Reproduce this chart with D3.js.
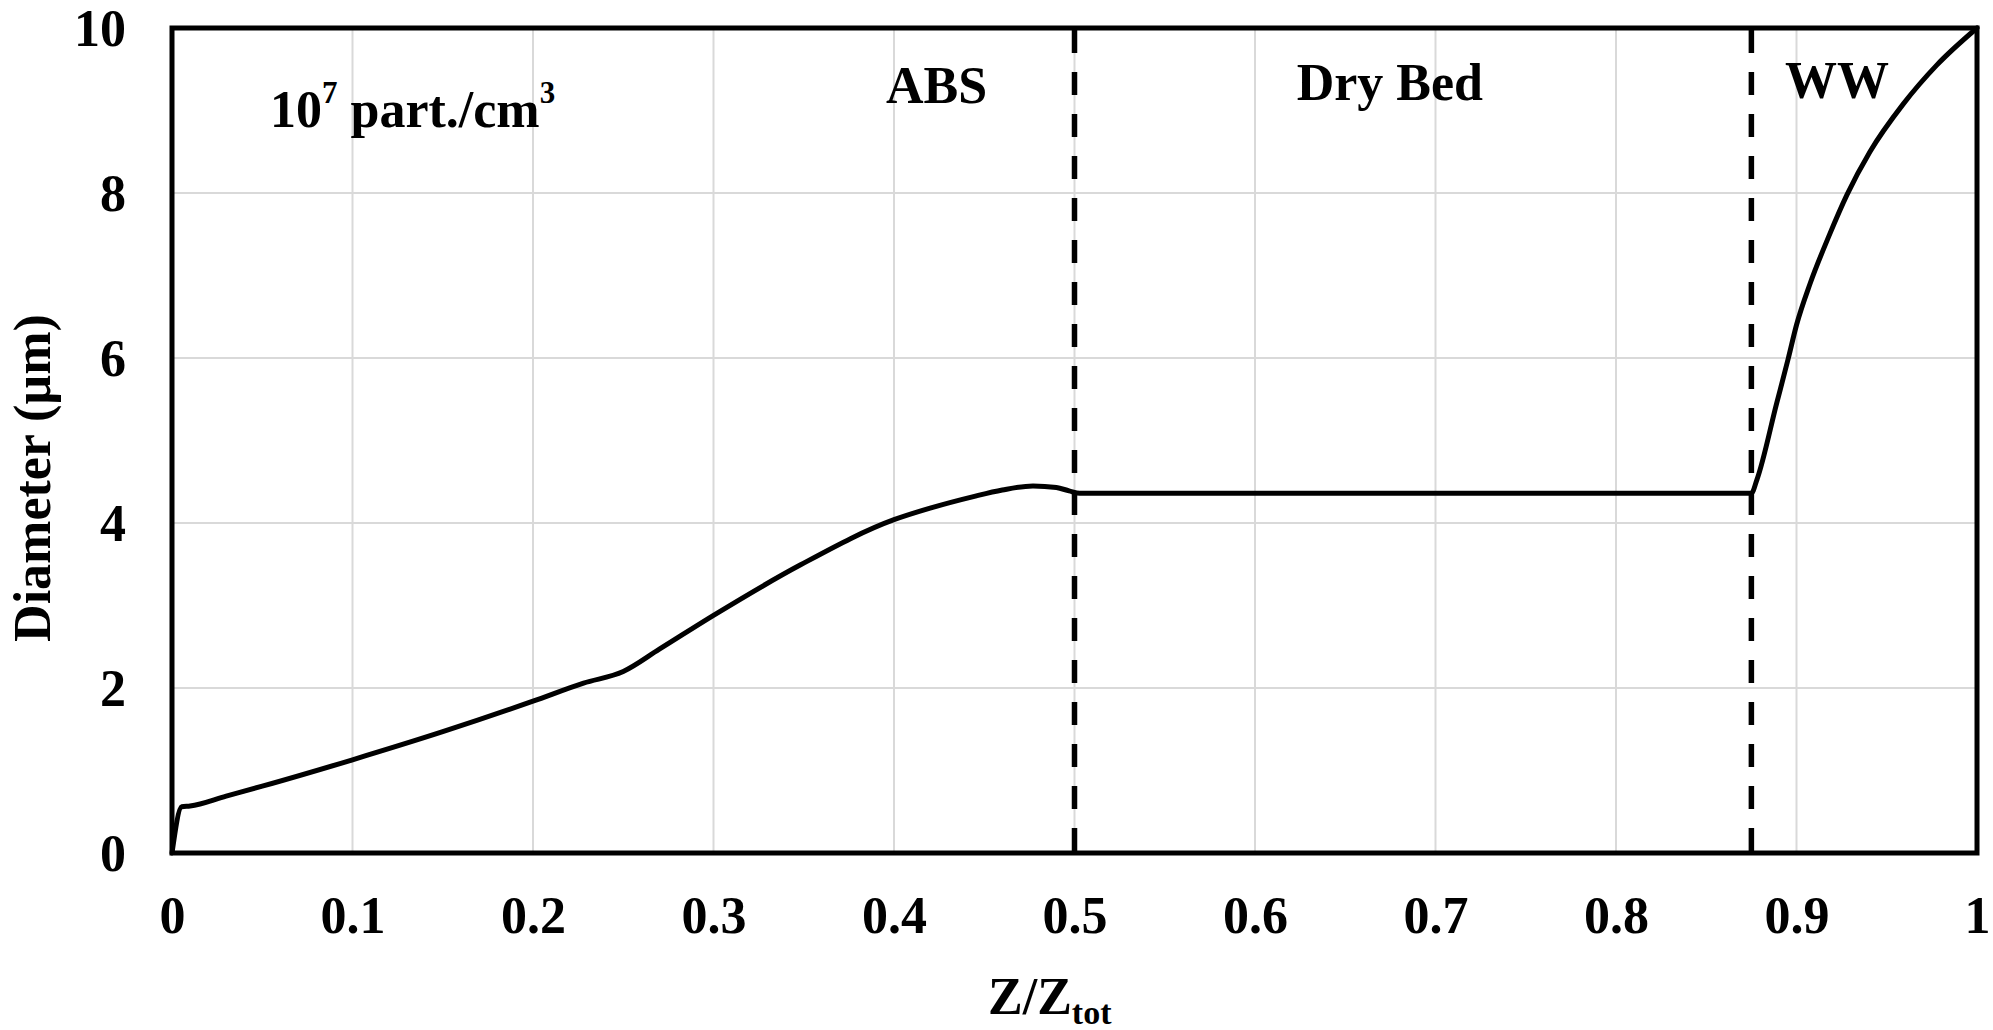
<!DOCTYPE html>
<html>
<head>
<meta charset="utf-8">
<script src="https://cdn.jsdelivr.net/npm/d3@7"></script>
<style>
  html, body { margin: 0; padding: 0; background: #fff; }
  svg { display: block; }
  text { font-family: "Liberation Serif", "Times New Roman", serif; font-weight: bold; fill: #000; }
</style>
</head>
<body>
<svg id="chart" width="1993" height="1030"></svg>
<script>
// ---- Data ----
const zValues = [0, 0.0054, 0.01, 0.03, 0.05, 0.1, 0.15, 0.2, 0.228, 0.25, 0.27, 0.3, 0.348, 0.4, 0.42, 0.444, 0.46, 0.477, 0.49, 0.497, 0.503, 0.6, 0.7, 0.8, 0.875, 0.878, 0.889, 0.8955, 0.9, 0.9075, 0.918, 0.928, 0.9407, 0.9592, 0.9777, 1.0];
const diameterValues = [0, 0.56, 0.57, 0.69, 0.81, 1.13, 1.47, 1.84, 2.06, 2.2, 2.47, 2.88, 3.49, 4.04, 4.18, 4.32, 4.40, 4.45, 4.43, 4.39, 4.36, 4.36, 4.36, 4.36, 4.36, 4.52, 5.45, 6.0, 6.4, 6.9, 7.48, 7.98, 8.5, 9.08, 9.55, 10.0];
const xTickValues = [0, 0.1, 0.2, 0.3, 0.4, 0.5, 0.6, 0.7, 0.8, 0.9, 1];
const xTickLabels = ["0", "0.1", "0.2", "0.3", "0.4", "0.5", "0.6", "0.7", "0.8", "0.9", "1"];
const yTickValues = [0, 2, 4, 6, 8, 10];
const yTickLabels = ["0", "2", "4", "6", "8", "10"];
const boundaries = [0.5, 0.875];
const regionLabels = ["ABS", "Dry Bed", "WW"];
const regionCenters = [0.4236, 0.6747, 0.9224];
const xTitle = "Z/Z";
const xTitleSub = "tot";
const yTitle = "Diameter (µm)";

// ---- Layout ----
const W = 1993, H = 1030;
const margin = { left: 172, top: 28, right: 16, bottom: 177 };
const iw = W - margin.left - margin.right;
const ih = H - margin.top - margin.bottom;

const svg = d3.select("#chart");
const g = svg.append("g").attr("transform", `translate(${margin.left},${margin.top})`);

const x = d3.scaleLinear().domain([0, 1]).range([0, iw]);
const y = d3.scaleLinear().domain([0, 10]).range([ih, 0]);

// gridlines
g.append("g").selectAll("line.vg").data(xTickValues).join("line")
  .attr("x1", d => x(d)).attr("x2", d => x(d)).attr("y1", 0).attr("y2", ih)
  .attr("stroke", "#d9d9d9").attr("stroke-width", 2);
g.append("g").selectAll("line.hg").data(yTickValues).join("line")
  .attr("x1", 0).attr("x2", iw).attr("y1", d => y(d)).attr("y2", d => y(d))
  .attr("stroke", "#d9d9d9").attr("stroke-width", 2);

// axes (labels only)
const xAxis = d3.axisBottom(x).tickValues(xTickValues)
  .tickFormat((d, i) => xTickLabels[i]).tickSize(0).tickPadding(43);
const gx = g.append("g").attr("transform", `translate(0,${ih})`).call(xAxis);
gx.select(".domain").remove();
gx.selectAll("text").style("font-size", "52px").style("font-family", "'Liberation Serif','Times New Roman',serif").style("font-weight", "bold");

const yAxis = d3.axisLeft(y).tickValues(yTickValues)
  .tickFormat((d, i) => yTickLabels[i]).tickSize(0).tickPadding(46);
const gy = g.append("g").call(yAxis);
gy.select(".domain").remove();
gy.selectAll("text").style("font-size", "52px").style("font-family", "'Liberation Serif','Times New Roman',serif").style("font-weight", "bold")
  .attr("dy", "0.34em");

// dashed boundaries
g.append("g").selectAll("line.bd").data(boundaries).join("line")
  .attr("x1", d => x(d)).attr("x2", d => x(d))
  .attr("y1", y(10) + 2).attr("y2", y(0) + 5)
  .attr("stroke", "#000").attr("stroke-width", 5.5)
  .attr("stroke-dasharray", "23,19");

// data line
const pts = zValues.map((z, i) => [z, diameterValues[i]]);
const line = d3.line().x(d => x(d[0])).y(d => y(d[1])).curve(d3.curveMonotoneX);
g.append("path").datum(pts).attr("d", line)
  .attr("fill", "none").attr("stroke", "#000").attr("stroke-width", 5)
  .attr("stroke-linejoin", "round").attr("stroke-linecap", "round");

// frame
g.append("rect").attr("x", 0).attr("y", 0).attr("width", iw).attr("height", ih)
  .attr("fill", "none").attr("stroke", "#000").attr("stroke-width", 5);

// region labels
const baselines = [103 - margin.top, 100 - margin.top, 98 - margin.top];
g.append("g").selectAll("text.rl").data(regionLabels).join("text")
  .attr("x", (d, i) => x(regionCenters[i])).attr("y", (d, i) => baselines[i])
  .attr("text-anchor", "middle").style("font-size", "52px").text(d => d);

// concentration label
const conc = svg.append("text").attr("x", 270).attr("y", 127).style("font-size", "52px");
conc.append("tspan").text("10");
conc.append("tspan").attr("dy", -24).style("font-size", "31px").text("7");
conc.append("tspan").attr("dy", 24).text(" part./cm");
conc.append("tspan").attr("dy", -24).style("font-size", "31px").text("3");

// axis titles
const xt = svg.append("text").attr("x", 988).attr("y", 1014).style("font-size", "52px");
xt.append("tspan").text(xTitle);
xt.append("tspan").attr("dy", 10).style("font-size", "34px").text(xTitleSub);

svg.append("text").attr("transform", "translate(50,478) rotate(-90)")
  .attr("text-anchor", "middle").style("font-size", "52px").text(yTitle);
</script>
</body>
</html>
